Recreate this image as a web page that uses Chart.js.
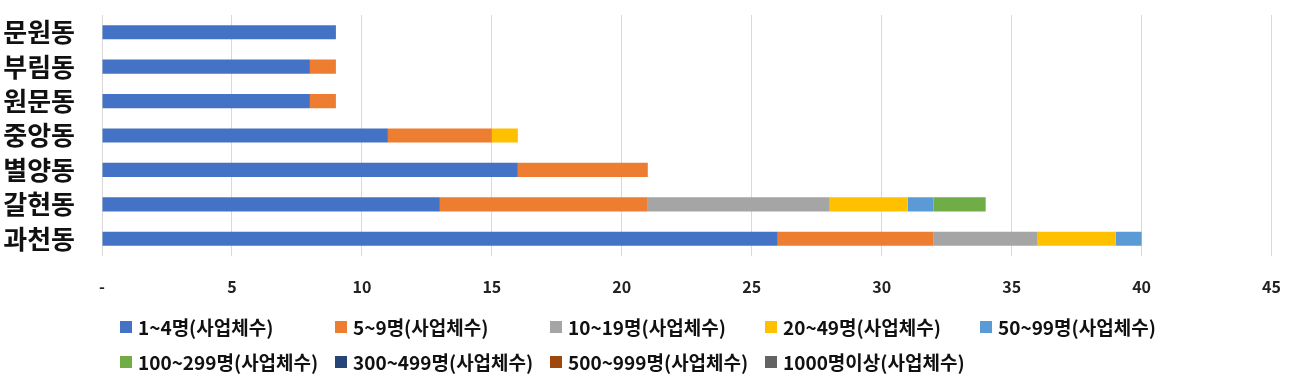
<!DOCTYPE html>
<html>
<head>
<meta charset="utf-8">
<script src="https://cdn.jsdelivr.net/npm/chart.js@4"></script>
<style>
  html, body { margin: 0; padding: 0; background: #fff; }
  #wrap { position: relative; width: 1302px; height: 382px; }
  #legend {
    position: absolute; left: 120px; top: 309px;
    display: grid; grid-template-columns: repeat(5, 215px); grid-auto-rows: 35px;
    font-family: "Noto Sans CJK KR", sans-serif; font-size: 19px; font-weight: bold; color: #111;
  }
  .item { display: flex; align-items: center; white-space: nowrap; }
  .box { width: 12px; height: 12px; margin-right: 6px; flex: none; }
</style>
</head>
<body>
<div id="wrap">
  <canvas id="chart" width="1302" height="382"></canvas>
  <div id="legend"></div>
</div>
<script>
const dongs = ['문원동', '부림동', '원문동', '중앙동', '별양동', '갈현동', '과천동'];
const xTicks = [0, 5, 10, 15, 20, 25, 30, 35, 40, 45];

const seriesNames = [
  '1~4명(사업체수)', '5~9명(사업체수)', '10~19명(사업체수)', '20~49명(사업체수)',
  '50~99명(사업체수)', '100~299명(사업체수)', '300~499명(사업체수)',
  '500~999명(사업체수)', '1000명이상(사업체수)'
];
const seriesColors = ['#4472C4', '#ED7D31', '#A5A5A5', '#FFC000', '#5B9BD5', '#70AD47', '#264478', '#9E480E', '#636363'];

// values per dong, top to bottom
const s1to4     = [9, 8, 8, 11, 16, 13, 26];
const s5to9     = [0, 1, 1, 4, 5, 8, 6];
const s10to19   = [0, 0, 0, 0, 0, 7, 4];
const s20to49   = [0, 0, 0, 1, 0, 3, 3];
const s50to99   = [0, 0, 0, 0, 0, 1, 1];
const s100to299 = [0, 0, 0, 0, 0, 2, 0];
const s300to499 = [0, 0, 0, 0, 0, 0, 0];
const s500to999 = [0, 0, 0, 0, 0, 0, 0];
const s1000up   = [0, 0, 0, 0, 0, 0, 0];

const seriesValues = [s1to4, s5to9, s10to19, s20to49, s50to99, s100to299, s300to499, s500to999, s1000up];

const datasets = seriesNames.map((name, i) => ({
  label: name,
  data: seriesValues[i],
  backgroundColor: seriesColors[i],
  borderWidth: 0,
  barPercentage: 0.41,
  categoryPercentage: 1,
}));

new Chart(document.getElementById('chart'), {
  type: 'bar',
  data: { labels: dongs, datasets },
  options: {
    indexAxis: 'y',
    responsive: false,
    animation: false,
    layout: { padding: { top: 15, right: 29, bottom: 86, left: 0 } },
    plugins: { legend: { display: false }, tooltip: { enabled: false } },
    scales: {
      x: {
        stacked: true,
        min: 0, max: 45,
        afterBuildTicks: axis => { axis.ticks = xTicks.map(v => ({ value: v })); },
        afterFit: axis => { axis.height = 40; },
        ticks: {
          callback: v => (v === 0 ? '-' : v),
          font: { family: 'Noto Sans CJK KR', size: 16, weight: 'bold' },
          color: '#222',
          padding: 21,
          maxRotation: 0,
        },
        grid: { color: '#d9d9d9', lineWidth: 1, drawTicks: false },
        border: { display: false },
      },
      y: {
        stacked: true,
        afterFit: axis => { axis.width = 102; axis.paddingTop = 0; axis.paddingBottom = 0; },
        ticks: {
          autoSkip: false,
          font: { family: 'Noto Sans CJK KR', size: 26, weight: 'bold' },
          color: '#111',
          padding: 27,
        },
        grid: { display: false, drawTicks: false },
        border: { display: false },
      },
    },
  },
});

const legend = document.getElementById('legend');
seriesNames.forEach((name, i) => {
  const item = document.createElement('div');
  item.className = 'item';
  const box = document.createElement('span');
  box.className = 'box';
  box.style.background = seriesColors[i];
  const txt = document.createElement('span');
  txt.textContent = name;
  item.appendChild(box);
  item.appendChild(txt);
  legend.appendChild(item);
});
</script>
</body>
</html>
